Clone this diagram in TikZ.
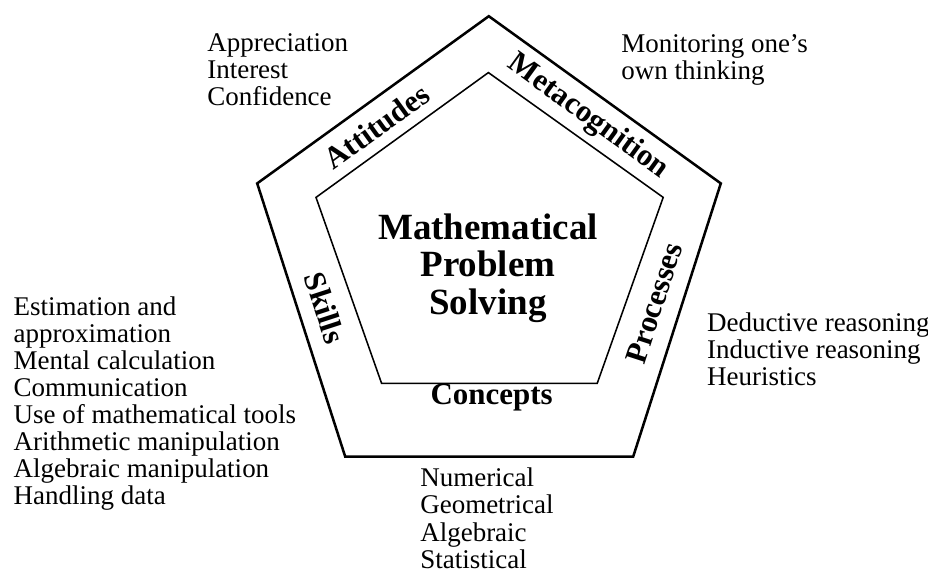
\documentclass[tikz,border=0pt]{standalone}
\usepackage{fontspec}
\setmainfont{Liberation Serif}
\usepackage{tikz}

\tikzset{
  listtext/.style={align=left, anchor=base west, inner sep=0pt,
    font=\rmfamily\fontsize{19.2}{19.3}\selectfont},
  bandlabel/.style={font=\rmfamily\fontsize{22}{22}\selectfont\bfseries},
}

\begin{document}
\begin{tikzpicture}
  \useasboundingbox (0,0) rectangle (23.2,14.225);

  % outer pentagon
  \draw[line width=1.8pt] (12.22,13.82) -- (18.02,9.64) -- (15.83,2.81)
    -- (8.63,2.81) -- (6.43,9.64) -- cycle;

  % inner pentagon
  \draw[line width=1.1pt] (12.21,12.41) -- (16.58,9.29) -- (14.93,4.64)
    -- (9.54,4.64) -- (7.90,9.29) -- cycle;

  % centre
  \node[font=\rmfamily\fontsize{26.3}{26.7}\selectfont\bfseries, align=center] (mps)
    at (12.2,7.53) {Mathematical\\Problem\\Solving};

  % the five components
  \node[bandlabel, rotate=36] (attitudes) at (9.42,11.06) {Attitudes};
  \node[bandlabel, rotate=-36] (metacognition) at (14.70,11.30) {Metacognition};
  \node[bandlabel, rotate=72] (processes) at (16.35,6.65) {Processes};
  \node[bandlabel, rotate=-72] (skills) at (8.125,6.525) {Skills};
  \node[bandlabel] (concepts) at (12.29,4.28) {Concepts};

  % what each component covers (placed by the last line)
  \node[listtext] (attitudesList) at (5.175,11.58)
    {Appreciation\\Interest\\Confidence};
  \node[listtext] (metaList) at (15.525,12.225)
    {Monitoring one's\\own thinking};
  \node[listtext] (processList) at (17.67,4.575)
    {Deductive reasoning\\Inductive reasoning\\Heuristics};
  \node[listtext] (skillsList) at (0.333,1.6)
    {Estimation and\\approximation\\Mental calculation\\Communication\\Use of mathematical tools\\Arithmetic manipulation\\Algebraic manipulation\\Handling data};
  \node[listtext] (conceptsList) at (10.5,0.02)
    {Numerical\\Geometrical\\Algebraic\\Statistical};
\end{tikzpicture}
\end{document}
